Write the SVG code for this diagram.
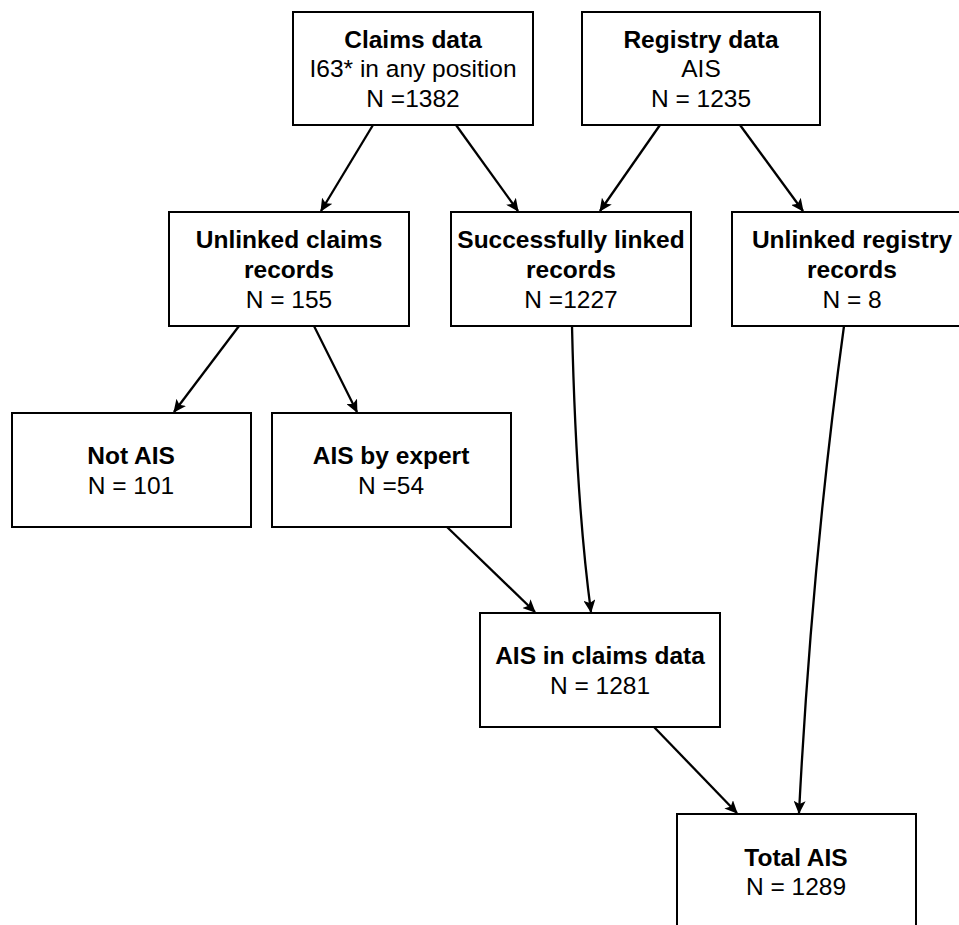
<svg xmlns="http://www.w3.org/2000/svg" width="959" height="925" viewBox="0 0 959 925">
<style>
.box{fill:#fff;stroke:#000;stroke-width:2}
.t{font-family:"Liberation Sans",Arial,Helvetica,sans-serif;font-size:24.5px;text-anchor:middle;fill:#000}
.b{font-weight:bold}
.c{fill:none;stroke:#000;stroke-width:2.3}
</style>
<defs>
<marker id="ah" markerUnits="userSpaceOnUse" markerWidth="14" markerHeight="12" refX="12" refY="6" orient="auto">
<path d="M0,0 L13,6 L0,12 L3,6 z" fill="#000"/>
</marker>
</defs>
<rect width="959" height="925" fill="#fff"/>
<g id="connectors">
<path class="c" d="M373,125 L321,211" marker-end="url(#ah)"/>
<path class="c" d="M456,125 L518,211" marker-end="url(#ah)"/>
<path class="c" d="M660,125 L600,211" marker-end="url(#ah)"/>
<path class="c" d="M740,125 L803,211" marker-end="url(#ah)"/>
<path class="c" d="M239,326 L174,412" marker-end="url(#ah)"/>
<path class="c" d="M314,326 L357,412" marker-end="url(#ah)"/>
<path class="c" d="M572,326 Q576,500 591,612" marker-end="url(#ah)"/>
<path class="c" d="M447,527 L535,612" marker-end="url(#ah)"/>
<path class="c" d="M654,727 L737,813" marker-end="url(#ah)"/>
<path class="c" d="M844,326 Q812,560 799,813" marker-end="url(#ah)"/>
</g>
<g id="claims">
<rect class="box" x="293" y="12" width="240" height="113"/>
<text class="t b" x="413" y="48">Claims data</text>
<text class="t" x="413" y="77">I63* in any position</text>
<text class="t" x="413" y="107">N =1382</text>
</g>
<g id="registry">
<rect class="box" x="582" y="12" width="238" height="113"/>
<text class="t b" x="701" y="48">Registry data</text>
<text class="t" x="701" y="77">AIS</text>
<text class="t" x="701" y="107">N = 1235</text>
</g>
<g id="unlinked-claims">
<rect class="box" x="169" y="212" width="240" height="114"/>
<text class="t b" x="289" y="248">Unlinked claims</text>
<text class="t b" x="289" y="278">records</text>
<text class="t" x="289" y="308">N = 155</text>
</g>
<g id="linked">
<rect class="box" x="451" y="212" width="240" height="114"/>
<text class="t b" x="571" y="248">Successfully linked</text>
<text class="t b" x="571" y="278">records</text>
<text class="t" x="571" y="308">N =1227</text>
</g>
<g id="unlinked-registry">
<rect class="box" x="732" y="212" width="240" height="114"/>
<text class="t b" x="852" y="248">Unlinked registry</text>
<text class="t b" x="852" y="278">records</text>
<text class="t" x="852" y="308">N = 8</text>
</g>
<g id="not-ais">
<rect class="box" x="12" y="413" width="239" height="114"/>
<text class="t b" x="131" y="464">Not AIS</text>
<text class="t" x="131" y="494">N = 101</text>
</g>
<g id="ais-expert">
<rect class="box" x="272" y="413" width="239" height="114"/>
<text class="t b" x="391" y="464">AIS by expert</text>
<text class="t" x="391" y="494">N =54</text>
</g>
<g id="ais-claims">
<rect class="box" x="480" y="613" width="240" height="114"/>
<text class="t b" x="600" y="664">AIS in claims data</text>
<text class="t" x="600" y="694">N = 1281</text>
</g>
<g id="total">
<rect class="box" x="677" y="814" width="239" height="130"/>
<text class="t b" x="796" y="866">Total AIS</text>
<text class="t" x="796" y="895">N = 1289</text>
</g>
</svg>
